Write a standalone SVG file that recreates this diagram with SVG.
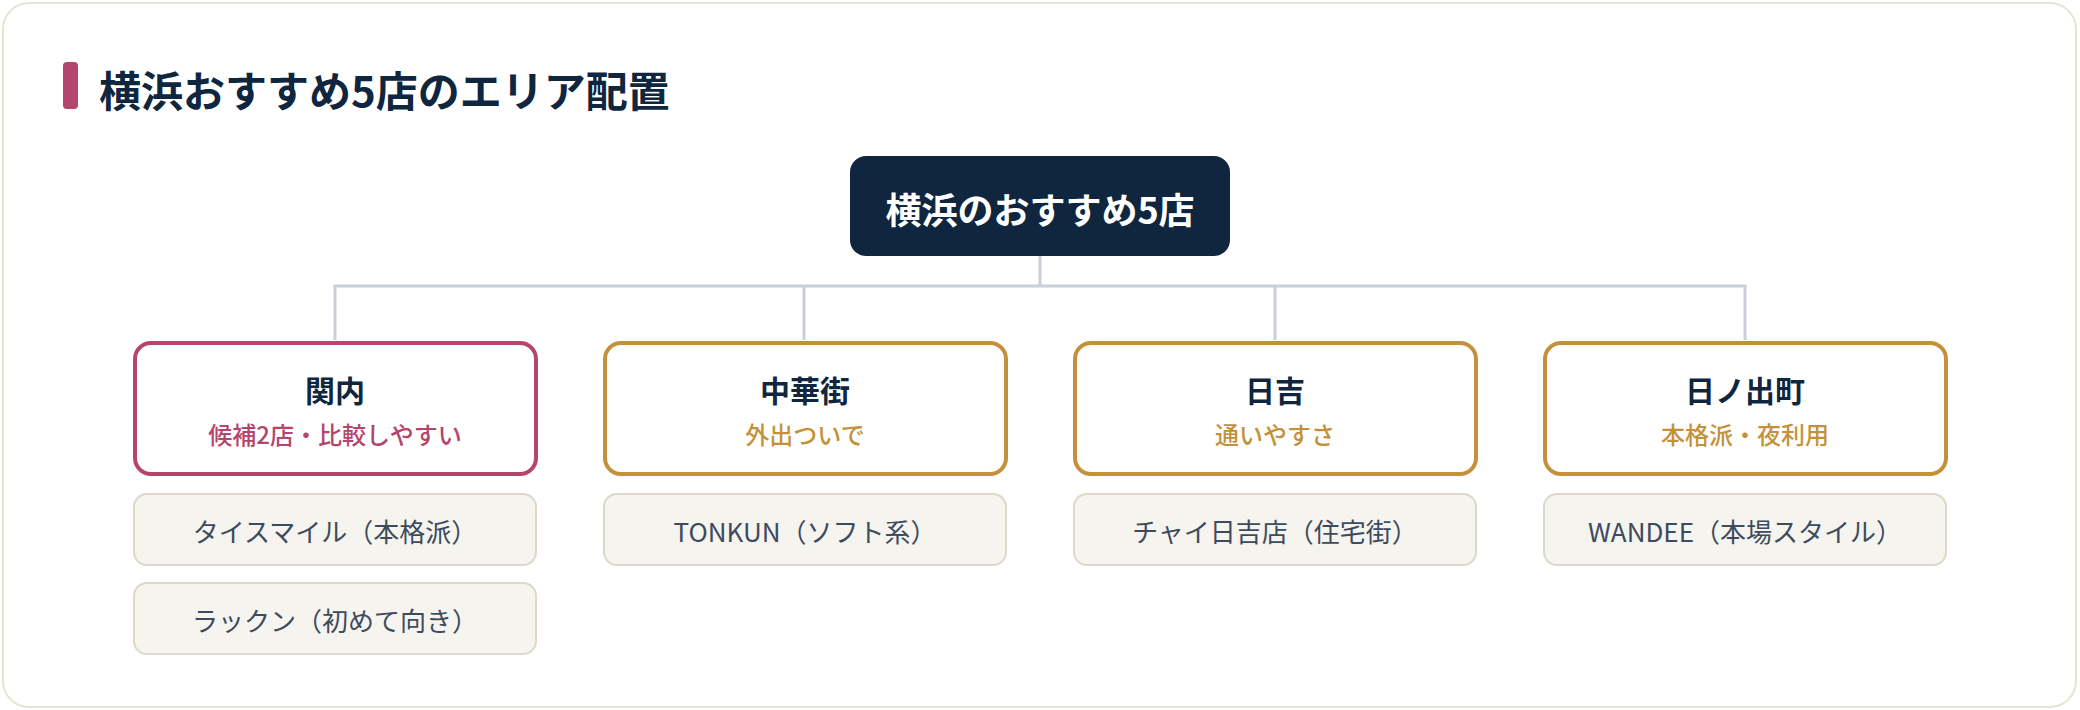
<svg xmlns="http://www.w3.org/2000/svg" width="2080" height="710" viewBox="0 0 2080 710">
<style>
text{font-family:"Noto Sans CJK JP","Noto Sans",sans-serif;text-anchor:middle;dominant-baseline:central}
.area{fill:#ffffff;stroke-width:4}
.pink{stroke:#b4456c}
.gold{stroke:#c4913a}
.atitle{font-size:30px;font-weight:700;fill:#10263f}
.asub{font-size:24px;font-weight:500}
.store rect{fill:#f6f4ee;stroke:#dcd9ca;stroke-width:2}
.store text{font-size:26px;font-weight:400;fill:#3d4b5e}
.conn{fill:none;stroke:#c9ced8;stroke-width:3}
</style>
<rect x="0" y="0" width="2080" height="710" fill="#ffffff"/>
<rect x="3" y="3" width="2073" height="704" rx="26" fill="#ffffff" stroke="#e5e3d5" stroke-width="2"/>
<g id="title">
<rect x="63" y="62" width="15" height="47" rx="4" fill="#b4456c"/>
<text x="99" y="88" style="text-anchor:start;font-size:42px;font-weight:700;fill:#10263f">横浜おすすめ5店のエリア配置</text>
</g>
<g id="connectors">
<path class="conn" d="M1040 256V286M335 340V286H1745V340M804 286V340M1275 286V340"/>
</g>
<g id="root">
<rect x="850" y="156" width="380" height="100" rx="16" fill="#10263f"/>
<text x="1040" y="208" style="font-size:36px;font-weight:700;fill:#ffffff">横浜のおすすめ5店</text>
</g>
<g id="area-kannai">
<rect class="area pink" x="135" y="343" width="401" height="131" rx="16"/>
<text class="atitle" x="335" y="389">関内</text>
<text class="asub" x="335" y="433" fill="#b4456c">候補2店・比較しやすい</text>
</g>
<g id="area-chukagai">
<rect class="area gold" x="605" y="343" width="401" height="131" rx="16"/>
<text class="atitle" x="805" y="389">中華街</text>
<text class="asub" x="805" y="433" fill="#c4913a">外出ついで</text>
</g>
<g id="area-hiyoshi">
<rect class="area gold" x="1075" y="343" width="401" height="131" rx="16"/>
<text class="atitle" x="1275" y="389">日吉</text>
<text class="asub" x="1275" y="433" fill="#c4913a">通いやすさ</text>
</g>
<g id="area-hinodecho">
<rect class="area gold" x="1545" y="343" width="401" height="131" rx="16"/>
<text class="atitle" x="1745" y="389">日ノ出町</text>
<text class="asub" x="1745" y="433" fill="#c4913a">本格派・夜利用</text>
</g>
<g id="store-thaismile" class="store">
<rect x="134" y="494" width="402" height="71" rx="13"/>
<text x="335" y="530">タイスマイル（本格派）</text>
</g>
<g id="store-rakkun" class="store">
<rect x="134" y="583" width="402" height="71" rx="13"/>
<text x="335" y="619">ラックン（初めて向き）</text>
</g>
<g id="store-tonkun" class="store">
<rect x="604" y="494" width="402" height="71" rx="13"/>
<text x="805" y="530">TONKUN（ソフト系）</text>
</g>
<g id="store-chai" class="store">
<rect x="1074" y="494" width="402" height="71" rx="13"/>
<text x="1275" y="530">チャイ日吉店（住宅街）</text>
</g>
<g id="store-wandee" class="store">
<rect x="1544" y="494" width="402" height="71" rx="13"/>
<text x="1745" y="530">WANDEE（本場スタイル）</text>
</g>
</svg>
